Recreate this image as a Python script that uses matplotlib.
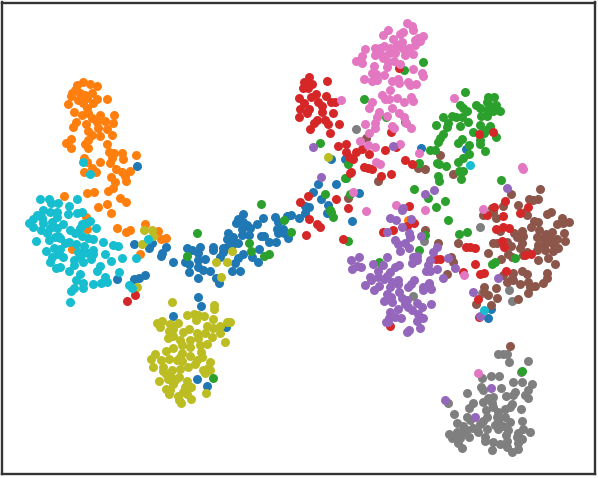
import numpy as np
import matplotlib
matplotlib.use("Agg")
import matplotlib.pyplot as plt

# embedding points per class
orange = [(83,82),(77,85),(90,84),(97,86),(75,90),(72,93),(80,93),(85,95),(92,93),(71,96),(78,100),(87,98),(97,99),(107,99),(68,104),(83,103),(93,103),(87,108),(74,112),(82,115),(88,113),(92,118),(100,115),(114,115),(105,121),(113,123),(76,122),(73,127),(86,124),(97,122),(98,128),(88,131),(107,129),(112,135),(100,136),(92,135),(88,140),(71,139),(66,143),(71,148),(85,144),(88,148),(107,144),(109,152),(114,153),(122,153),(112,158),(123,159),(136,155),(84,158),(87,162),(100,162),(110,163),(116,169),(92,168),(96,172),(84,172),(122,172),(130,171),(125,176),(111,177),(115,182),(126,181),(113,188),(108,191),(94,192),(87,193),(64,196),(120,198),(126,202),(107,204),(98,207),(111,213),(86,217),(87,229),(117,228),(126,232),(130,230),(145,224),(158,231),(161,239),(166,238),(140,254),(72,249),(408,220)]
cyan = [(40,199),(49,199),(51,203),(58,203),(77,199),(69,206),(43,210),(37,215),(50,212),(57,212),(68,214),(77,213),(82,212),(33,219),(29,223),(42,218),(57,217),(43,223),(52,222),(63,224),(33,227),(90,221),(82,224),(86,223),(96,228),(41,230),(50,228),(57,228),(47,233),(70,230),(80,228),(75,233),(58,236),(82,236),(36,241),(49,240),(55,237),(60,238),(88,238),(93,239),(65,243),(69,242),(103,242),(76,244),(113,245),(118,246),(54,248),(60,249),(84,246),(46,251),(78,252),(93,250),(83,253),(88,253),(58,254),(63,257),(52,257),(105,254),(122,258),(80,257),(93,254),(91,259),(74,260),(50,262),(111,261),(83,262),(56,268),(60,267),(74,265),(100,266),(69,271),(97,271),(80,274),(119,272),(105,277),(76,280),(107,282),(101,283),(93,284),(83,283),(83,288),(74,288),(71,291),(70,302),(129,285),(132,288),(136,258),(148,239),(83,162),(90,174),(470,165),(484,310)]
blue = [(137,166),(134,244),(152,243),(149,248),(166,247),(162,253),(161,256),(173,262),(134,279),(139,278),(145,275),(117,279),(187,248),(192,250),(200,247),(198,253),(185,262),(189,264),(198,260),(205,259),(198,267),(189,272),(203,270),(210,271),(198,278),(213,247),(213,250),(223,248),(223,252),(220,257),(216,278),(219,283),(232,271),(240,271),(235,263),(238,258),(243,254),(227,247),(232,245),(238,243),(227,239),(228,233),(233,237),(242,235),(243,214),(238,219),(236,223),(243,222),(247,225),(242,229),(250,228),(249,235),(257,224),(263,218),(261,236),(264,236),(269,242),(276,242),(259,249),(252,257),(258,262),(275,217),(278,222),(277,229),(283,229),(278,233),(284,233),(288,238),(287,216),(291,215),(299,218),(305,213),(305,206),(309,207),(313,192),(318,184),(321,199),(328,205),(336,184),(327,213),(352,221),(359,193),(198,297),(201,306),(173,316),(226,327),(197,379),(207,386),(421,148),(331,159),(345,159),(466,149),(488,318),(491,309)]
olive = [(144,230),(152,230),(153,236),(142,244),(137,287),(172,302),(214,305),(214,309),(187,315),(194,314),(198,315),(204,316),(196,320),(213,319),(157,323),(162,321),(160,327),(170,324),(178,323),(169,331),(173,329),(183,332),(189,329),(207,326),(220,326),(227,322),(230,322),(213,328),(197,333),(205,333),(220,333),(173,336),(168,338),(180,340),(190,340),(198,338),(212,337),(225,342),(182,345),(200,345),(207,344),(173,348),(190,347),(166,351),(182,353),(201,352),(155,354),(151,359),(161,360),(169,359),(180,357),(190,356),(202,357),(177,360),(182,361),(197,360),(210,362),(195,364),(153,367),(163,367),(188,367),(208,368),(163,371),(172,370),(180,369),(203,370),(210,370),(166,374),(205,373),(172,378),(179,377),(159,381),(168,379),(175,380),(187,381),(173,384),(185,387),(191,387),(166,389),(170,390),(169,394),(183,392),(187,394),(206,393),(178,396),(179,400),(191,399),(181,403),(232,251),(216,262),(227,262),(221,277),(328,157)]
green = [(423,62),(404,70),(364,99),(386,117),(405,122),(320,143),(465,92),(488,97),(494,97),(487,102),(460,105),(463,108),(476,105),(480,108),(489,105),(496,105),(467,111),(487,110),(500,111),(493,111),(481,116),(487,116),(443,117),(452,116),(456,117),(462,117),(448,123),(468,122),(436,125),(447,127),(460,126),(480,125),(490,126),(485,130),(473,132),(443,134),(440,138),(484,133),(462,139),(496,137),(438,142),(458,143),(480,140),(480,144),(469,145),(430,150),(435,150),(485,151),(469,154),(463,158),(419,163),(458,162),(437,163),(439,164),(446,166),(463,171),(459,171),(438,176),(439,181),(461,179),(501,180),(414,189),(445,201),(428,198),(436,207),(348,164),(345,178),(325,194),(330,210),(448,220),(459,234),(467,232),(419,250),(379,262),(425,235),(495,262),(492,264),(515,258),(522,371),(261,204),(197,233),(187,256),(249,243),(251,251),(264,256),(269,254),(284,220),(291,232),(331,212),(333,217),(348,241),(346,178),(350,194),(213,378)]
red = [(309,77),(304,82),(312,84),(303,88),(308,88),(327,81),(316,94),(299,98),(311,97),(326,96),(318,102),(304,103),(331,102),(335,102),(322,106),(300,109),(309,109),(307,113),(322,112),(333,113),(299,117),(325,120),(317,120),(314,123),(328,124),(339,124),(310,129),(330,133),(399,68),(391,132),(338,146),(346,144),(346,152),(356,152),(362,149),(349,157),(353,159),(369,154),(385,150),(396,147),(364,167),(368,168),(372,169),(405,160),(412,164),(351,172),(381,176),(391,174),(479,134),(493,132),(308,196),(300,202),(336,199),(348,208),(409,206),(505,201),(494,207),(528,207),(309,219),(317,224),(320,227),(306,235),(343,239),(350,173),(127,301),(135,295),(414,223),(407,226),(383,232),(393,230),(436,259),(440,259),(463,272),(466,247),(470,247),(475,248),(475,264),(480,274),(484,273),(506,271),(478,299),(479,317),(390,326),(496,229),(503,227),(509,228),(502,241),(504,247),(525,255),(531,254),(520,213),(503,216),(487,215)]
pink = [(407,23),(412,26),(413,30),(403,32),(400,34),(388,30),(383,35),(423,36),(418,38),(415,40),(420,41),(393,39),(402,42),(415,45),(384,46),(397,45),(375,48),(380,48),(390,48),(402,48),(409,48),(365,49),(405,55),(413,54),(389,53),(375,55),(380,53),(395,53),(362,56),(383,58),(356,61),(362,63),(388,62),(394,61),(400,64),(374,66),(387,67),(413,69),(384,75),(372,73),(376,74),(422,73),(423,76),(364,79),(372,81),(377,80),(392,81),(398,79),(399,83),(408,82),(410,85),(416,84),(390,90),(382,95),(411,97),(385,99),(389,99),(397,98),(404,102),(413,101),(372,102),(341,100),(369,108),(392,108),(379,112),(399,113),(377,117),(387,116),(404,117),(375,123),(406,123),(365,124),(375,128),(392,126),(394,128),(411,128),(369,133),(454,98),(360,141),(368,145),(375,147),(400,144),(419,153),(376,162),(380,164),(522,167),(523,169),(353,192),(396,205),(425,210),(366,211),(483,209),(464,275),(478,373)]
purple = [(313,147),(393,146),(321,177),(425,194),(434,190),(507,188),(403,208),(402,210),(390,218),(396,220),(411,219),(402,227),(387,232),(409,233),(410,237),(421,236),(395,240),(398,244),(405,243),(409,248),(400,251),(437,247),(433,252),(387,257),(359,257),(351,260),(357,266),(361,267),(352,269),(413,257),(417,256),(412,263),(417,260),(430,260),(448,258),(428,265),(373,264),(383,265),(399,265),(395,267),(426,271),(430,271),(437,269),(455,268),(378,271),(390,272),(387,276),(370,277),(378,277),(371,280),(384,279),(398,280),(414,280),(443,278),(392,282),(398,284),(411,284),(365,285),(379,286),(390,287),(408,287),(423,287),(429,283),(374,290),(399,292),(423,290),(431,289),(387,294),(391,297),(402,298),(407,300),(384,301),(392,302),(405,304),(417,303),(431,304),(422,307),(398,309),(408,307),(412,310),(390,312),(418,314),(395,317),(389,318),(401,318),(423,318),(417,321),(386,322),(388,322),(420,328),(409,330),(407,332),(473,292),(498,278),(480,316),(491,388),(445,400),(475,417)]
brown = [(540,189),(511,194),(529,199),(533,200),(538,199),(518,205),(503,206),(492,208),(493,212),(483,215),(525,212),(527,215),(547,214),(551,212),(496,218),(534,221),(538,222),(562,218),(557,224),(563,223),(569,222),(531,227),(500,231),(522,231),(514,233),(539,230),(552,232),(546,234),(564,233),(517,237),(523,236),(537,237),(543,238),(550,239),(557,239),(565,241),(493,243),(497,243),(507,242),(522,243),(538,245),(545,244),(553,244),(511,246),(520,248),(537,250),(545,250),(558,248),(553,251),(488,253),(508,254),(527,252),(512,257),(523,255),(548,258),(501,259),(538,260),(555,264),(522,271),(527,274),(547,273),(513,273),(503,275),(547,278),(512,278),(507,282),(543,283),(513,280),(528,282),(520,284),(535,286),(530,287),(484,287),(496,288),(484,292),(528,293),(488,295),(497,298),(518,299),(476,304),(491,305),(425,230),(438,243),(458,243),(451,257),(453,262),(447,274),(429,284),(378,181),(348,198),(453,174),(440,155),(366,138),(418,168),(425,169),(510,346)]
gray = [(498,354),(503,354),(507,354),(509,362),(528,361),(521,372),(491,376),(499,376),(482,378),(513,382),(522,382),(532,384),(481,387),(483,390),(501,388),(467,393),(515,392),(528,390),(525,395),(506,396),(513,395),(493,397),(488,398),(483,402),(528,398),(448,403),(492,403),(473,403),(512,404),(469,408),(493,407),(505,409),(510,407),(521,409),(486,410),(498,412),(454,414),(467,417),(487,417),(497,417),(505,417),(483,421),(470,420),(498,421),(510,422),(522,421),(457,423),(480,424),(495,425),(503,426),(463,426),(473,428),(487,429),(498,429),(508,430),(523,429),(467,430),(530,432),(449,434),(457,432),(478,432),(462,433),(518,433),(506,435),(469,437),(485,437),(452,438),(460,438),(517,437),(485,441),(522,439),(458,443),(493,442),(500,444),(507,441),(518,443),(462,448),(507,447),(492,450),(518,449),(512,452),(413,296),(424,241),(480,227),(482,293),(509,290),(512,301),(356,129)]

W, H = 598, 478
fig = plt.figure(figsize=(W / 100, H / 100), dpi=100)
# frame sits just inside the image
left, right, top, bottom = 2, 595, 2.5, 474
ax = fig.add_axes([left / W, 1 - bottom / H, (right - left) / W, (bottom - top) / H])

# outliers sit on top of the big clusters, so the order matters a bit
layers = [
    (gray, "tab:gray"),
    (orange, "tab:orange"),
    (blue, "tab:blue"),
    (olive, "tab:olive"),
    (brown, "tab:brown"),
    (green, "tab:green"),
    (red, "tab:red"),
    (pink, "tab:pink"),
    (purple, "tab:purple"),
    (cyan, "tab:cyan"),
]
for pts, col in layers:
    pts = np.array(pts)
    ax.scatter(pts[:, 0], pts[:, 1], s=42, c=col, linewidths=0)

ax.set_xlim(left, right)
ax.set_ylim(bottom, top)
ax.set_xticks([])
ax.set_yticks([])
for sp in ax.spines.values():
    sp.set_color("#333333")
    sp.set_linewidth(1.7)

fig.savefig("out.png", dpi=100)
